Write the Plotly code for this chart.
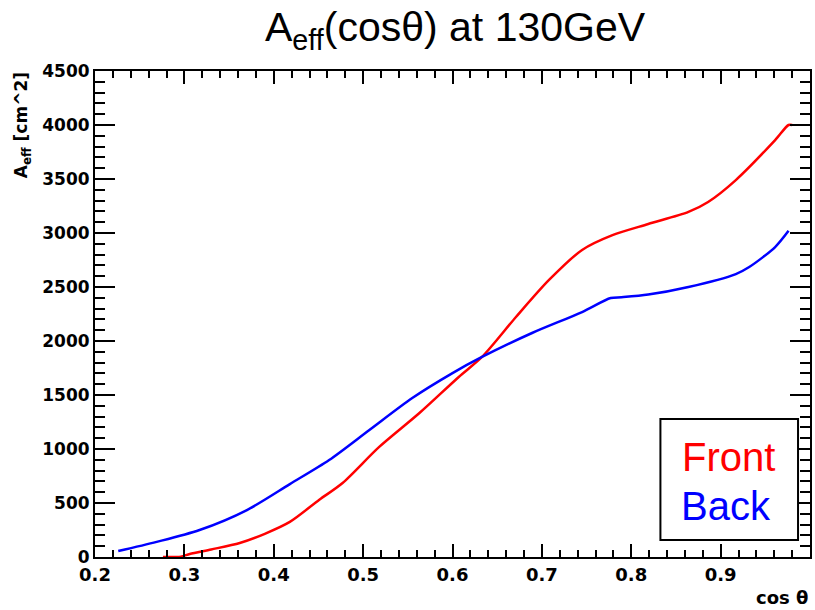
import plotly.graph_objects as go

# Data
front_x = [0.276, 0.296, 0.306, 0.330, 0.362, 0.390, 0.418, 0.451, 0.477, 0.518,
           0.563, 0.607, 0.633, 0.671, 0.708, 0.745, 0.779, 0.819, 0.864, 0.886,
           0.917, 0.961, 0.976, 0.980]
front_y = [0, 3, 28, 70, 130, 215, 325, 530, 685, 1019,
           1333, 1667, 1852, 2222, 2565, 2843, 2980, 3083, 3195, 3287,
           3490, 3860, 4000, 4000]

back_x = [0.226, 0.269, 0.317, 0.370, 0.418, 0.462, 0.507, 0.555, 0.600,
          0.633, 0.689, 0.745, 0.777, 0.789, 0.819, 0.864, 0.917, 0.932, 0.961,
          0.976]
back_y = [55, 140, 250, 435, 675, 898, 1176, 1472, 1703,
          1852, 2074, 2268, 2398, 2405, 2430, 2500, 2620, 2685, 2870,
          3020]

x_range = [0.2, 1.0]
y_range = [0, 4500]

W, H = 815, 610
L, R, T, B = 95, 3, 71, 53
pw, ph = W - L - R, H - T - B

def px(x):
    return (x - L) / pw

def py(y):
    return (H - B - y) / ph

fig = go.Figure()
fig.add_trace(go.Scatter(x=front_x, y=front_y, mode="lines", name="Front",
                         line=dict(color="#ff0000", width=2.5, shape="spline", smoothing=0.8),
                         showlegend=False))
fig.add_trace(go.Scatter(x=back_x, y=back_y, mode="lines", name="Back",
                         line=dict(color="#0000ff", width=2.5, shape="spline", smoothing=0.8),
                         showlegend=False))

tickfont = dict(family="DejaVu Sans", size=18, color="black", weight="bold")

fig.update_xaxes(range=x_range, dtick=0.1, tick0=0.2, ticks="inside", ticklen=13, tickwidth=2,
                 tickcolor="black", showline=True, linewidth=2, linecolor="black",
                 mirror="ticks", showgrid=False, zeroline=False, tickfont=tickfont,
                 minor=dict(dtick=0.02, ticks="inside", ticklen=7, tickwidth=2, tickcolor="black",
                            showgrid=False))
fig.update_yaxes(range=y_range, dtick=500, ticks="inside", ticklen=20, tickwidth=2,
                 tickcolor="black", showline=True, linewidth=2, linecolor="black",
                 mirror="ticks", showgrid=False, zeroline=False,
                 tickfont=dict(family="DejaVu Sans", size=17, color="black", weight="bold"),
                 minor=dict(dtick=100, ticks="inside", ticklen=10, tickwidth=2, tickcolor="black",
                            showgrid=False))

annotations = [
    dict(text="A<sub>eff</sub>(cosθ) at 130GeV", xref="paper", yref="paper",
         x=px(457), y=py(30), xanchor="center", yanchor="middle", showarrow=False,
         font=dict(family="Liberation Sans", size=41, color="black")),
    dict(text="A<sub>eff</sub> [cm^2]", xref="paper", yref="paper", textangle=-90,
         x=px(22), y=py(70), xanchor="center", yanchor="top", showarrow=False,
         font=dict(family="DejaVu Sans", size=17, color="black", weight="bold")),
    dict(text="cos θ", xref="paper", yref="paper",
         x=px(812), y=py(597), xanchor="right", yanchor="middle", showarrow=False,
         font=dict(family="DejaVu Sans", size=18, color="black", weight="bold")),
    dict(text="Front", xref="paper", yref="paper",
         x=px(730), y=py(457), xanchor="center", yanchor="middle", showarrow=False,
         font=dict(family="Liberation Sans", size=40, color="#ff0000")),
    dict(text="Back", xref="paper", yref="paper",
         x=px(728), y=py(506), xanchor="center", yanchor="middle", showarrow=False,
         font=dict(family="Liberation Sans", size=40, color="#0000ff")),
]

shapes = [
    dict(type="rect", xref="paper", yref="paper", x0=px(662), x1=px(800), y0=py(540), y1=py(419),
         line=dict(color="black", width=2), fillcolor="white", layer="above"),
]

fig.update_layout(width=W, height=H, margin=dict(l=L, r=R, t=T, b=B),
                  paper_bgcolor="white", plot_bgcolor="white",
                  annotations=annotations, shapes=shapes, showlegend=False)

fig.write_html("out.html")
